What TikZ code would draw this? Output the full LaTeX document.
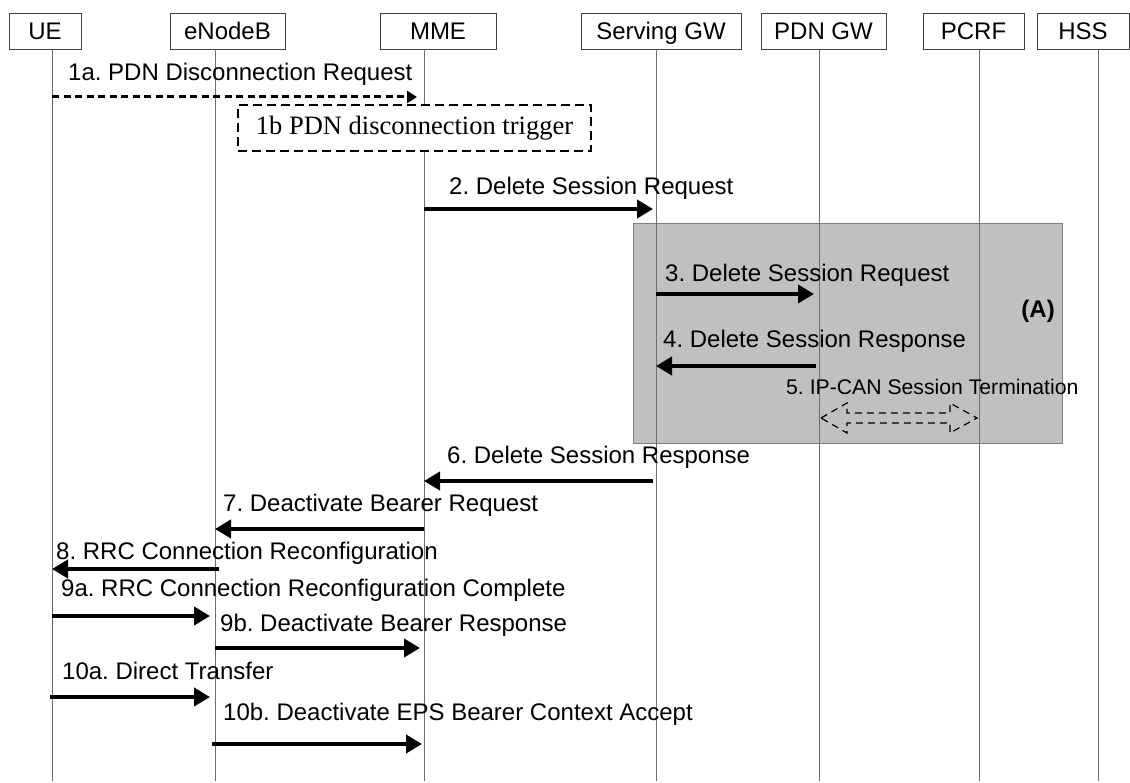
\documentclass[tikz,border=0pt]{standalone}
\usepackage{fontspec}
\setmainfont{Liberation Sans}
\newfontfamily\serifface{Liberation Serif}
\usetikzlibrary{arrows.meta,calc}
\definecolor{boxgray}{HTML}{C0C0C0}
\definecolor{edgegray}{HTML}{808080}
\definecolor{linegray}{HTML}{6E6E6E}
\begin{document}
\frenchspacing
\begin{tikzpicture}[x=1pt,y=-1pt,
  ent/.style={draw=black!75,line width=0.9pt,minimum height=36pt,inner sep=0pt,text height=17pt,text depth=0pt,font=\fontsize{24}{28}\selectfont},
  life/.style={draw=linegray,line width=1pt},
  msg/.style={line width=4.3pt,-{Triangle[length=16pt,width=18pt]}},
  msgr/.style={msg,shorten >=3pt},
  dmsg/.style={line width=3pt,dash pattern=on 7pt off 4.5pt,-{Triangle[length=10pt,width=12pt]}},
  lbl/.style={anchor=base west,inner sep=0pt,font=\fontsize{24}{28}\selectfont},
  trig/.style={draw,dash pattern=on 9pt off 5pt,line width=1.3pt,fill=white,inner sep=0pt,font=\serifface\fontsize{26.5}{30}\selectfont},
  regionbox/.style={draw=edgegray,line width=1pt,fill=boxgray},
  dbl/.style={draw,line width=1.2pt,dash pattern=on 7pt off 5pt}
]
\useasboundingbox (0,0) rectangle (1130,783);
\fill[white] (0,0) rectangle (1130,783);

% entity boxes
\node[ent,minimum width=72pt]  (UE)   at (45,31)    {UE};
\node[ent,minimum width=115pt] (ENB)  at (227.5,31) {eNodeB};
\node[ent,minimum width=116pt] (MME)  at (438,31)   {MME};
\node[ent,minimum width=160pt] (SGW)  at (661,31)   {Serving GW};
\node[ent,minimum width=125pt] (PGW)  at (823.5,31) {PDN GW};
\node[ent,minimum width=101pt] (PCRF) at (973.5,31) {PCRF};
\node[ent,minimum width=92pt]  (HSS)  at (1083,31)  {HSS};

% lifeline anchors
\coordinate (ueL)   at (52,49);
\coordinate (enbL)  at (215,49);
\coordinate (mmeL)  at (424,49);
\coordinate (sgwL)  at (656,49);
\coordinate (pgwL)  at (819,49);
\coordinate (pcrfL) at (979,49);
\coordinate (hssL)  at (1098,49);
\coordinate (bot)   at (0,781);

% message rows
\coordinate (y1) at (0,97);
\coordinate (y2) at (0,209);
\coordinate (y3) at (0,294);
\coordinate (y4) at (0,366);
\coordinate (y5) at (0,418);
\coordinate (y6) at (0,481);
\coordinate (y7) at (0,529);
\coordinate (y8) at (0,569);
\coordinate (y9a) at (0,616);
\coordinate (y9b) at (0,648);
\coordinate (y10a) at (0,697);
\coordinate (y10b) at (0,744);

% region (A)
\node[regionbox,minimum width=429pt,minimum height=219pt,inner sep=0pt] (A) at (847.5,333.5) {};
\node[anchor=base east,inner sep=0pt,font=\bfseries\fontsize{24}{28}\selectfont] (Alab) at (1055,318) {(A)};

% lifelines
\foreach \l in {ueL,enbL,mmeL,sgwL,pgwL,pcrfL,hssL}
  \draw[life] (\l) -- (\l |- bot);

% 1b trigger box
\node[trig,minimum width=353pt,minimum height=46pt] (T1b) at (414.5,128) {1b PDN disconnection trigger};

% messages
\draw[dmsg,shorten >=7pt] (ueL |- y1) -- (mmeL |- y1);
\node[lbl] (L1a) at (68,81) {1a. PDN Disconnection Request};

\draw[msgr] (mmeL |- y2) -- (sgwL |- y2);
\node[lbl] (L2) at (449,195) {2. Delete Session Request};

\draw[msg,shorten >=5pt] (sgwL |- y3) -- (pgwL |- y3);
\node[lbl] (L3) at (665,282) {3. Delete Session Request};

\draw[msg,shorten <=3pt] (pgwL |- y4) -- (sgwL |- y4);
\node[lbl] (L4) at (663,348) {4. Delete Session Response};

\node[lbl,font=\fontsize{21.2}{25}\selectfont] (L5) at (786,395) {5. IP-CAN Session Termination};
\coordinate (d5l) at ($(pgwL |- y5)+(2,0)$);
\coordinate (d5r) at ($(pcrfL |- y5)+(-2,0)$);
\draw[dbl] (d5l) -- ($(d5l)+(26,-15)$) -- ($(d5l)+(26,-5)$) -- ($(d5r)+(-27,-5)$) -- ($(d5r)+(-27,-15)$) -- (d5r)
  -- ($(d5r)+(-27,15)$) -- ($(d5r)+(-27,5)$) -- ($(d5l)+(26,5)$) -- ($(d5l)+(26,15)$) -- cycle;

\draw[msg,shorten <=3pt] (sgwL |- y6) -- (mmeL |- y6);
\node[lbl] (L6) at (447,463) {6. Delete Session Response};

\draw[msg] (mmeL |- y7) -- (enbL |- y7);
\node[lbl] (L7) at (223,511) {7. Deactivate Bearer Request};

\draw[msg,shorten <=-4pt] (enbL |- y8) -- (ueL |- y8);
\node[lbl] (L8) at (56,559) {8. RRC Connection Reconfiguration};

\draw[msg,shorten >=5pt] (ueL |- y9a) -- (enbL |- y9a);
\node[lbl] (L9a) at (61,596) {9a. RRC Connection Reconfiguration Complete};

\draw[msg,shorten >=4pt] (enbL |- y9b) -- (mmeL |- y9b);
\node[lbl] (L9b) at (220,631) {9b. Deactivate Bearer Response};

\draw[msg,shorten >=5pt,shorten <=-2pt] (ueL |- y10a) -- (enbL |- y10a);
\node[lbl] (L10a) at (62,679) {10a. Direct Transfer};

\draw[msg,shorten >=2pt,shorten <=-3pt] (enbL |- y10b) -- (mmeL |- y10b);
\node[lbl] (L10b) at (223,720) {10b. Deactivate EPS Bearer Context Accept};
\end{tikzpicture}
\end{document}
